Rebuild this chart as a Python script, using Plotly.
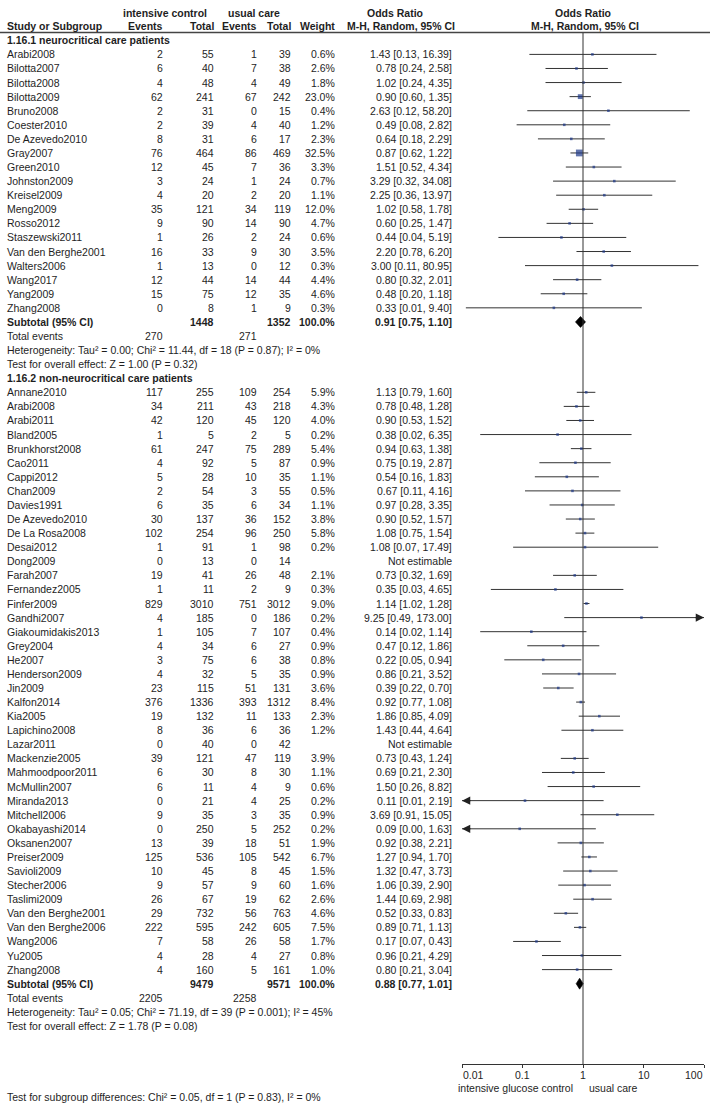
import math
import plotly.graph_objects as go

# ---------------- data ----------------
names1 = ["Arabi2008", "Bilotta2007", "Bilotta2008", "Bilotta2009", "Bruno2008", "Coester2010",
          "De Azevedo2010", "Gray2007", "Green2010", "Johnston2009", "Kreisel2009", "Meng2009",
          "Rosso2012", "Staszewski2011", "Van den Berghe2001", "Walters2006", "Wang2017",
          "Yang2009", "Zhang2008"]
ev_int1 = [2, 6, 4, 62, 2, 2, 8, 76, 12, 3, 4, 35, 9, 1, 16, 1, 12, 15, 0]
tot_int1 = [55, 40, 48, 241, 31, 39, 31, 464, 45, 24, 20, 121, 90, 26, 33, 13, 44, 75, 8]
ev_uc1 = [1, 7, 4, 67, 0, 4, 6, 86, 7, 1, 2, 34, 14, 2, 9, 0, 14, 12, 1]
tot_uc1 = [39, 38, 49, 242, 15, 40, 17, 469, 36, 24, 20, 119, 90, 24, 30, 12, 44, 35, 9]
w1 = [0.6, 2.6, 1.8, 23.0, 0.4, 1.2, 2.3, 32.5, 3.3, 0.7, 1.1, 12.0, 4.7, 0.6, 3.5, 0.3, 4.4, 4.6, 0.3]
or1 = [1.43, 0.78, 1.02, 0.90, 2.63, 0.49, 0.64, 0.87, 1.51, 3.29, 2.25, 1.02, 0.60, 0.44, 2.20,
       3.00, 0.80, 0.48, 0.33]
lo1 = [0.13, 0.24, 0.24, 0.60, 0.12, 0.08, 0.18, 0.62, 0.52, 0.32, 0.36, 0.58, 0.25, 0.04, 0.78,
       0.11, 0.32, 0.20, 0.01]
hi1 = [16.39, 2.58, 4.35, 1.35, 58.20, 2.82, 2.29, 1.22, 4.34, 34.08, 13.97, 1.78, 1.47, 5.19,
       6.20, 80.95, 2.01, 1.18, 9.40]
sub1 = dict(tot_int=1448, tot_uc=1352, ev_int=270, ev_uc=271, orv=0.91, lo=0.75, hi=1.10,
            het="Heterogeneity: Tau² = 0.00; Chi² = 11.44, df = 18 (P = 0.87); I² = 0%",
            test="Test for overall effect: Z = 1.00 (P = 0.32)",
            title="1.16.1 neurocritical care patients")

names2 = ["Annane2010", "Arabi2008", "Arabi2011", "Bland2005", "Brunkhorst2008", "Cao2011",
          "Cappi2012", "Chan2009", "Davies1991", "De Azevedo2010", "De La Rosa2008", "Desai2012",
          "Dong2009", "Farah2007", "Fernandez2005", "Finfer2009", "Gandhi2007",
          "Giakoumidakis2013", "Grey2004", "He2007", "Henderson2009", "Jin2009", "Kalfon2014",
          "Kia2005", "Lapichino2008", "Lazar2011", "Mackenzie2005", "Mahmoodpoor2011",
          "McMullin2007", "Miranda2013", "Mitchell2006", "Okabayashi2014", "Oksanen2007",
          "Preiser2009", "Savioli2009", "Stecher2006", "Taslimi2009", "Van den Berghe2001",
          "Van den Berghe2006", "Wang2006", "Yu2005", "Zhang2008"]
ev_int2 = [117, 34, 42, 1, 61, 4, 5, 2, 6, 30, 102, 1, 0, 19, 1, 829, 4, 1, 4, 3, 4, 23, 376, 19,
           8, 0, 39, 6, 6, 0, 9, 0, 13, 125, 10, 9, 26, 29, 222, 7, 4, 4]
tot_int2 = [255, 211, 120, 5, 247, 92, 28, 54, 35, 137, 254, 91, 13, 41, 11, 3010, 185, 105, 34,
            75, 32, 115, 1336, 132, 36, 40, 121, 30, 11, 21, 35, 250, 39, 536, 45, 57, 67, 732,
            595, 58, 28, 160]
ev_uc2 = [109, 43, 45, 2, 75, 5, 10, 3, 6, 36, 96, 1, 0, 26, 2, 751, 0, 7, 6, 6, 5, 51, 393, 11,
          6, 0, 47, 8, 4, 4, 3, 5, 18, 105, 8, 9, 19, 56, 242, 26, 4, 5]
tot_uc2 = [254, 218, 120, 5, 289, 87, 35, 55, 34, 152, 250, 98, 14, 48, 9, 3012, 186, 107, 27,
           38, 35, 131, 1312, 133, 36, 42, 119, 30, 9, 25, 35, 252, 51, 542, 45, 60, 62, 763, 605,
           58, 27, 161]
w2 = [5.9, 4.3, 4.0, 0.2, 5.4, 0.9, 1.1, 0.5, 1.1, 3.8, 5.8, 0.2, None, 2.1, 0.3, 9.0, 0.2, 0.4,
      0.9, 0.8, 0.9, 3.6, 8.4, 2.3, 1.2, None, 3.9, 1.1, 0.6, 0.2, 0.9, 0.2, 1.9, 6.7, 1.5, 1.6,
      2.6, 4.6, 7.5, 1.7, 0.8, 1.0]
or2 = [1.13, 0.78, 0.90, 0.38, 0.94, 0.75, 0.54, 0.67, 0.97, 0.90, 1.08, 1.08, None, 0.73, 0.35,
       1.14, 9.25, 0.14, 0.47, 0.22, 0.86, 0.39, 0.92, 1.86, 1.43, None, 0.73, 0.69, 1.50, 0.11,
       3.69, 0.09, 0.92, 1.27, 1.32, 1.06, 1.44, 0.52, 0.89, 0.17, 0.96, 0.80]
lo2 = [0.79, 0.48, 0.53, 0.02, 0.63, 0.19, 0.16, 0.11, 0.28, 0.52, 0.75, 0.07, None, 0.32, 0.03,
       1.02, 0.49, 0.02, 0.12, 0.05, 0.21, 0.22, 0.77, 0.85, 0.44, None, 0.43, 0.21, 0.26, 0.01,
       0.91, 0.00, 0.38, 0.94, 0.47, 0.39, 0.69, 0.33, 0.71, 0.07, 0.21, 0.21]
hi2 = [1.60, 1.28, 1.52, 6.35, 1.38, 2.87, 1.83, 4.16, 3.35, 1.57, 1.54, 17.49, None, 1.69, 4.65,
       1.28, 173.00, 1.14, 1.86, 0.94, 3.52, 0.70, 1.08, 4.09, 4.64, None, 1.24, 2.30, 8.82,
       2.19, 15.05, 1.63, 2.21, 1.70, 3.73, 2.90, 2.98, 0.83, 1.13, 0.43, 4.29, 3.04]
sub2 = dict(tot_int=9479, tot_uc=9571, ev_int=2205, ev_uc=2258, orv=0.88, lo=0.77, hi=1.01,
            het="Heterogeneity: Tau² = 0.05; Chi² = 71.19, df = 39 (P = 0.001); I² = 45%",
            test="Test for overall effect: Z = 1.78 (P = 0.08)",
            title="1.16.2 non-neurocritical care patients")

tick_vals = [0.01, 0.1, 1, 10, 100]
tick_text = ["0.01", "0.1", "1", "10", "100"]
favours = ["intensive glucose control", "usual care"]
subgroup_test = "Test for subgroup differences: Chi² = 0.05, df = 1 (P = 0.83), I² = 0%"

# ---------------- layout constants ----------------
W, H = 710, 1107
Y0, DY = 54.4, 14.08          # pixel y of first study row, row pitch
FF = "Liberation Sans, Arial, sans-serif"
FS = 10.5
TC = "#1e1e1e"
LC = "#333333"
SQ = "#1b3688"
XMIN, XMAX = tick_vals[0], tick_vals[-1]
AX_PX = 1064                   # pixel y of forest axis


def px2row(p):
    return (p - Y0) / DY


# column right edges (px)
C_EVI, C_TOTI, C_EVU, C_TOTU, C_W, C_OR = 164, 215, 258, 292, 336, 453
C_NAME = 6

ann = []


def txt(x, y, s, anchor="left", bold=False, xref="x", size=FS):
    ann.append(dict(x=x, y=y, xref=xref, yref="y",
                    text=("<b>%s</b>" % s) if bold else s,
                    showarrow=False, xanchor=anchor, yanchor="middle", borderpad=0,
                    font=dict(size=size, color=TC, family=FF)))


# header
txt(165, px2row(12.7), "intensive control", "center", True)
txt(253.5, px2row(12.7), "usual care", "center", True)
txt(395, px2row(12.7), "Odds Ratio", "center", True)
txt(583, px2row(12.7), "Odds Ratio", "center", True)
hy = px2row(25.6)
txt(C_NAME, hy, "Study or Subgroup", "left", True)
txt(C_EVI, hy, "Events", "right", True)
txt(C_TOTI, hy, "Total", "right", True)
txt(C_EVU, hy, "Events", "right", True)
txt(C_TOTU, hy, "Total", "right", True)
txt(C_W, hy, "Weight", "right", True)
txt(456, hy, "M-H, Random, 95% CI", "right", True)
txt(585, hy, "M-H, Random, 95% CI", "center", True)

traces = []
arrows = []


def section(start, names, ei, ti, eu, tu, w, orv, lo, hi, sub):
    txt(C_NAME, start - 1, sub["title"], "left", True)
    ci_x, ci_y, sq_x, sq_y, sq_s = [], [], [], [], []
    for i, n in enumerate(names):
        r = start + i
        txt(C_NAME, r, n)
        txt(C_EVI, r, str(ei[i]), "right")
        txt(C_TOTI, r, str(ti[i]), "right")
        txt(C_EVU, r, str(eu[i]), "right")
        txt(C_TOTU, r, str(tu[i]), "right")
        if orv[i] is None:
            txt(C_OR, r, "Not estimable", "right")
            continue
        txt(C_W, r, "%.1f%%" % w[i], "right")
        txt(C_OR, r, "%.2f [%.2f, %.2f]" % (orv[i], lo[i], hi[i]), "right")
        # printed bounds are rounded; at the axis edge recover the log-symmetric bound
        lo_d = lo[i] if lo[i] > XMIN else orv[i] ** 2 / hi[i]
        hi_d = hi[i] if hi[i] < XMAX else orv[i] ** 2 / lo[i]
        a, b = max(lo_d, XMIN), min(hi_d, XMAX)
        ci_x += [a, b, None]
        ci_y += [r, r, None]
        sq_x.append(orv[i])
        sq_y.append(r)
        sq_s.append(max(2.6, 0.21 * w[i]))
        if lo_d < XMIN:
            arrows.append((XMIN, r, 10))
        if hi_d > XMAX:
            arrows.append((XMAX, r, -10))
    traces.append(go.Scatter(x=ci_x, y=ci_y, xaxis="x2", yaxis="y", mode="lines",
                             line=dict(color=LC, width=1), hoverinfo="skip", showlegend=False))
    traces.append(go.Scatter(x=sq_x, y=sq_y, xaxis="x2", yaxis="y", mode="markers",
                             marker=dict(symbol="square", size=sq_s, color=SQ, line=dict(width=0)),
                             hoverinfo="skip", showlegend=False))
    rs = start + len(names)
    txt(C_NAME, rs, "Subtotal (95% CI)", "left", True)
    txt(C_TOTI, rs, str(sub["tot_int"]), "right", True)
    txt(C_TOTU, rs, str(sub["tot_uc"]), "right", True)
    txt(C_W, rs, "100.0%", "right", True)
    txt(C_OR, rs, "%.2f [%.2f, %.2f]" % (sub["orv"], sub["lo"], sub["hi"]), "right", True)
    hd = 0.39
    traces.append(go.Scatter(x=[sub["lo"], sub["orv"], sub["hi"], sub["orv"], sub["lo"]],
                             y=[rs, rs - hd, rs, rs + hd, rs], xaxis="x2", yaxis="y",
                             mode="lines", fill="toself", fillcolor="#000000",
                             line=dict(color="#000000", width=0.6),
                             hoverinfo="skip", showlegend=False))
    txt(C_NAME, rs + 1, "Total events")
    txt(C_EVI, rs + 1, str(sub["ev_int"]), "right")
    txt(C_EVU, rs + 1, str(sub["ev_uc"]), "right")
    txt(C_NAME, rs + 2, sub["het"])
    txt(C_NAME, rs + 3, sub["test"])
    return rs + 3


end1 = section(0, names1, ev_int1, tot_int1, ev_uc1, tot_uc1, w1, or1, lo1, hi1, sub1)
start2 = end1 + 2
section(start2, names2, ev_int2, tot_int2, ev_uc2, tot_uc2, w2, or2, lo2, hi2, sub2)

# annotations on a log axis take log10 positions
for (xv, r, off) in arrows:
    ann.append(dict(x=math.log10(xv), y=r, xref="x2", yref="y", ax=off, ay=0, text="",
                    showarrow=True, arrowhead=2, arrowsize=1.5, arrowwidth=1.1,
                    arrowcolor="#222222", standoff=0))

# axis tick labels and favours labels
for v, t in zip(tick_vals, tick_text):
    anc = "left" if v == tick_vals[0] else ("right" if v == tick_vals[-1] else "center")
    txt(math.log10(v), px2row(1074.5), t, anc, xref="x2")
txt(574, px2row(1088), favours[0], "right")
txt(588, px2row(1088), favours[1], "left")
txt(C_NAME, px2row(1097), subgroup_test)

shapes = [
    dict(type="line", xref="paper", x0=0, x1=1, yref="y", y0=px2row(32.5), y1=px2row(32.5),
         line=dict(color="#444444", width=1.5)),
    dict(type="line", xref="x2", x0=1, x1=1, yref="y", y0=px2row(33), y1=px2row(AX_PX),
         line=dict(color=LC, width=1)),
]

fig = go.Figure(traces)
fig.update_layout(
    width=W, height=H, margin=dict(l=0, r=0, t=0, b=0), autosize=False,
    paper_bgcolor="white", plot_bgcolor="rgba(0,0,0,0)",
    showlegend=False, annotations=ann, shapes=shapes,
    xaxis=dict(range=[0, W], domain=[0, 1], visible=False, fixedrange=True),
    xaxis2=dict(type="log", range=[-2, 2], domain=[462 / W, 704 / W], anchor="free",
                position=1 - AX_PX / H, showline=True, linecolor=LC, linewidth=1,
                ticks="outside", ticklen=3, tickwidth=1, tickcolor=LC, tickvals=tick_vals,
                showticklabels=False, showgrid=False, zeroline=False, fixedrange=True),
    yaxis=dict(range=[px2row(H), px2row(0)], domain=[0, 1], visible=False, fixedrange=True),
)

fig.write_html("out.html", config=dict(displayModeBar=False),
               post_script="document.body.style.margin='0';")
